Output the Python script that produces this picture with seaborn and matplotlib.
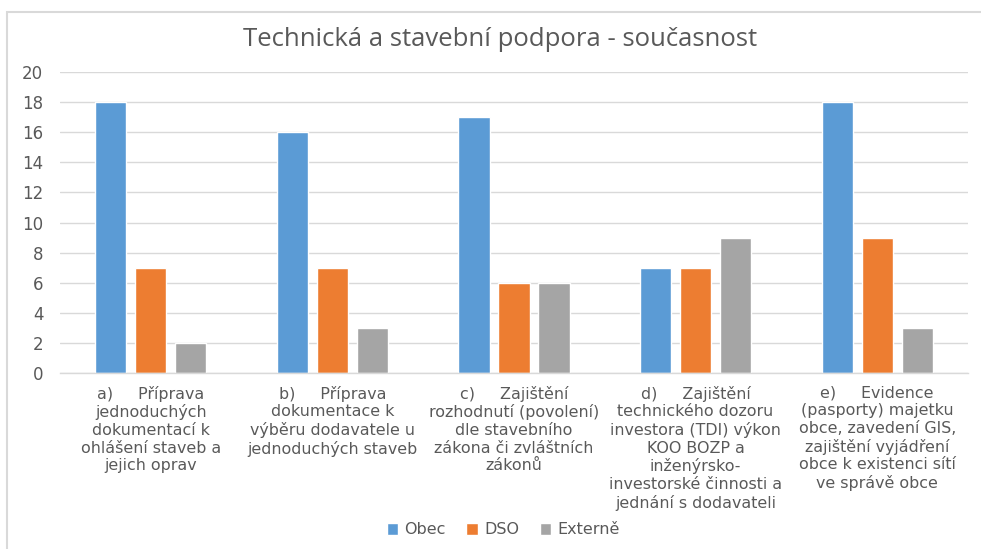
import matplotlib
matplotlib.use("Agg")
import matplotlib.pyplot as plt
from matplotlib.patches import Rectangle
import seaborn as sns
import pandas as pd

categories = [
    "a)     Příprava\njednoduchých\ndokumentací k\nohlášení staveb a\njejich oprav",
    "b)     Příprava\ndokumentace k\nvýběru dodavatele u\njednoduchých staveb",
    "c)     Zajištění\nrozhodnutí (povolení)\ndle stavebního\nzákona či zvláštních\nzákonů",
    "d)     Zajištění\ntechnického dozoru\ninvestora (TDI) výkon\nKOO BOZP a\ninženýrsko-\ninvestorské činnosti a\njednání s dodavateli",
    "e)     Evidence\n(pasporty) majetku\nobce, zavedení GIS,\nzajištění vyjádření\nobce k existenci sítí\nve správě obce",
]
series = ["Obec", "DSO", "Externě"]
obec = [18, 16, 17, 7, 18]
dso = [7, 7, 6, 7, 9]
externe = [2, 3, 6, 9, 3]
yticks = [0, 2, 4, 6, 8, 10, 12, 14, 16, 18, 20]
title = "Technická a stavební podpora - současnost"

colors = ["#5B9BD5", "#ED7D31", "#A5A5A5"]
text_color = "#595959"
grid_color = "#D9D9D9"

rows = []
for name, vals in zip(series, [obec, dso, externe]):
    for cat, v in zip(categories, vals):
        rows.append({"kategorie": cat, "řada": name, "hodnota": v})
df = pd.DataFrame(rows)

sns.set_theme(style="white")
plt.rcParams["font.family"] = ["DejaVu Sans"]

fig = plt.figure(figsize=(9.81, 5.49), dpi=100)
ax = fig.add_axes([60 / 981, 1 - 373 / 549, (968 - 60) / 981, (373 - 72) / 549])

sns.barplot(data=df, x="kategorie", y="hodnota", hue="řada",
            order=categories, hue_order=series, palette=colors,
            width=0.66, gap=0.22, saturation=1, ax=ax, legend=True)

ax.set_ylim(0, 20)
ax.set_yticks(yticks)
ax.set_xlim(-0.5, len(categories) - 0.5)
ax.yaxis.grid(True, color=grid_color, linewidth=1)
ax.set_axisbelow(True)
for side in ["top", "right", "left"]:
    ax.spines[side].set_visible(False)
ax.spines["bottom"].set_color(grid_color)
ax.spines["bottom"].set_linewidth(1)
ax.set_xlabel("")
ax.set_ylabel("")
ax.tick_params(axis="both", length=0, colors=text_color)
ax.tick_params(axis="y", labelsize=12, pad=12)
ax.set_xticks(range(len(categories)))
ax.set_xticklabels(categories, fontsize=11.4, color=text_color,
                   linespacing=1.22, va="top")
ax.tick_params(axis="x", pad=9)
for lbl in ax.get_yticklabels():
    lbl.set_color(text_color)

fig.text(0.51, 1 - 40 / 549, title, ha="center", va="center",
         fontsize=18.5, color=text_color, family=["Open Sans", "DejaVu Sans"])

handles, labels = ax.get_legend_handles_labels()
ax.legend_.remove()
leg = fig.legend(handles, labels, loc="center", bbox_to_anchor=(0.513, 1 - 530 / 549),
                 ncol=3, frameon=False, fontsize=11.5, handlelength=0.7,
                 handleheight=0.7, handletextpad=0.4, columnspacing=1.3)
for t in leg.get_texts():
    t.set_color(text_color)

# chart frame
fig.patches.append(Rectangle((7 / 981, -0.05), 1.1, 1 - 12 / 549 + 0.05,
                             transform=fig.transFigure, fill=False,
                             edgecolor=grid_color, linewidth=1.5))

fig.savefig("out.png", dpi=100)
